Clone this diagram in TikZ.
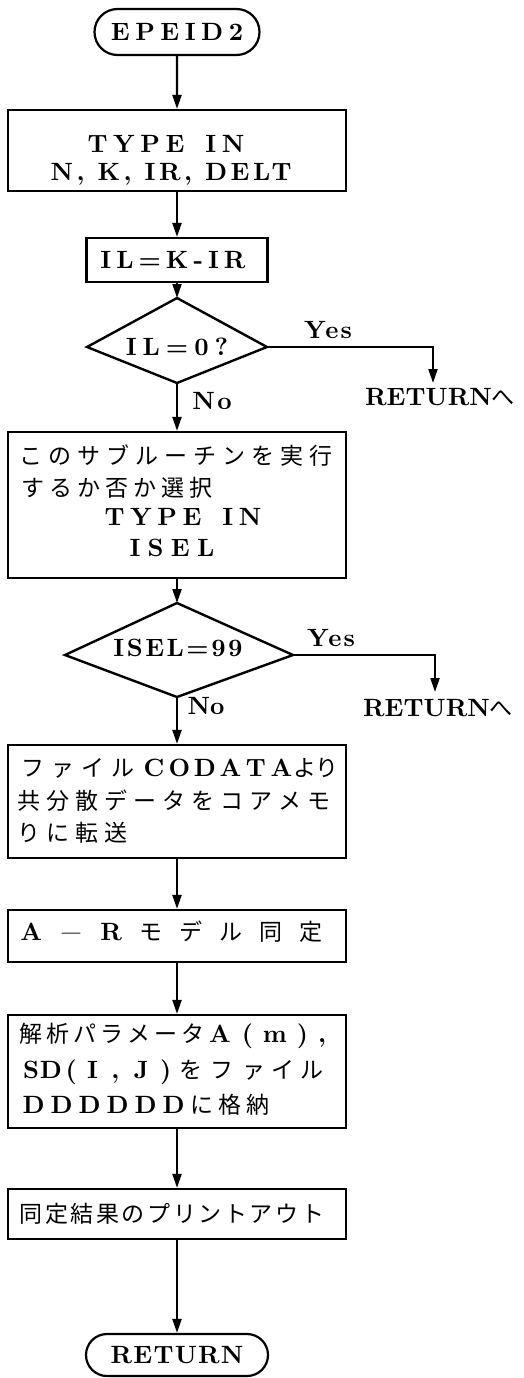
\documentclass[tikz,border=0pt]{standalone}
\usepackage{fontspec}
\usepackage{graphicx}
\usetikzlibrary{arrows.meta,shapes.misc}
\newfontfamily\latb{lmroman10-bold.otf}
\newfontfamily\jpf{Noto Sans CJK JP}
\newdimen\gw
\def\gridstopm{\gridstop}
\def\gridloop#1{\def\gtmp{#1}\ifx\gtmp\gridstopm\else\makebox[\gw]{#1}\expandafter\gridloop\fi}
\newcommand\grid[2]{\gw=#1\relax\gridloop#2\gridstop}
\newcommand\LS[1]{\addfontfeature{LetterSpace=#1}}
\newcommand\jp{\jpf\fontsize{23pt}{27pt}\selectfont}
\begin{document}
\begin{tikzpicture}[x=1pt,y=-1pt,
  box/.style={draw, line width=2.2pt, rectangle, inner sep=0pt, minimum width=338pt},
  term/.style={draw, line width=2.2pt, rounded rectangle, inner sep=0pt, font=\latb\fontsize{25pt}{29pt}\selectfont},
  txt/.style={inner sep=0pt, font=\latb\fontsize{25pt}{29pt}\selectfont},
  jtxt/.style={inner sep=0pt, font=\jp},
  dline/.style={line width=2.4pt, line join=miter},
  arr/.style={line width=2.2pt, -{Triangle[length=14pt,width=9pt]}}]
\fill[white] (0,0) rectangle (524,1378);
\useasboundingbox (0,0) rectangle (524,1378);

% start terminal
\node[term, minimum width=165pt, minimum height=46pt] (start) at (177,32) {\LS{22}EPEID2};

% box 1
\node[box, minimum height=81pt] (b1) at (177,150.5) {};
\node[txt, anchor=base] (b1a) at (166,153) {\LS{22}TYPE\ \hspace{6pt}IN};
\node[txt, anchor=base] (b1b) at (171,180) {\LS{14}N, K, IR, DELT};

% box 2
\node[box, minimum width=181pt, minimum height=44pt] (b2) at (177,260) {};
\node[txt, anchor=base] (b2t) at (173,268) {\LS{20}IL=K-IR};

% diamond 1
\coordinate (d1t) at (177,298);
\coordinate (d1r) at (267,347);
\coordinate (d1b) at (177,383);
\coordinate (d1l) at (87,347);
\draw[dline] (d1t) -- (d1r) -- (d1b) -- (d1l) -- cycle;
\node[txt, anchor=base] (d1x) at (177,355) {\LS{24}IL=0?};
\coordinate (r1tip) at (433,383);
\node[txt, anchor=base] (y1) at (328,338) {\LS{8}Yes};
\node[txt, anchor=base] (r1) at (440,405) {RETURN{\jp へ}};
\node[txt, anchor=base] (n1) at (212,409) {\LS{10}No};

% box 3
\node[box, minimum height=146pt] (b3) at (177,505) {};
\node[jtxt, anchor=base west] (b3a) at (16.5,464) {\grid{29pt}{このサブルーチンを実行}};
\node[jtxt, anchor=base west] (b3b) at (19,496) {\grid{28pt}{するか否か選択}};
\node[txt, anchor=base] (b3c) at (183,525) {\LS{22}TYPE\ \hspace{6pt}IN};
\node[txt, anchor=base] (b3d) at (172,556) {\LS{29}ISEL};

% diamond 2
\coordinate (d2t) at (177,603);
\coordinate (d2r) at (293,655);
\coordinate (d2b) at (177,697);
\coordinate (d2l) at (65,655);
\draw[dline] (d2t) -- (d2r) -- (d2b) -- (d2l) -- cycle;
\node[txt, anchor=base] (d2x) at (178,656) {\LS{10}ISEL=99};
\coordinate (r2tip) at (435,692);
\node[txt, anchor=base] (y2) at (331,646) {\LS{8}Yes};
\node[txt, anchor=base] (r2) at (438,716) {RETURN{\jp へ}};
\node[txt, anchor=base] (n2) at (206,714) {No};

% box 4
\node[box, minimum height=113pt] (b4) at (177,801.5) {};
\node[txt, anchor=base west] (b4a) at (18,776) {{\jp\grid{30pt}{ファイル}}\hspace{3pt}\grid{25.5pt}{CODATA}{\jp\grid{22pt}{より}}};
\node[jtxt, anchor=base west] (b4b) at (14.5,809) {\grid{29pt}{共分散データをコアメモ}};
\node[jtxt, anchor=base west] (b4c) at (14.5,841) {\grid{29pt}{りに転送}};

% box 5
\node[box, minimum height=52pt] (b5) at (177,936) {};
\node[txt, anchor=base west] (b5t) at (11,940) {\grid{40pt}{A{\scalebox{1.3}[1]{–}}R}{\jp\grid{40pt}{モデル同定}}};

% box 6
\node[box, minimum height=113pt] (b6) at (177,1071.5) {};
\node[txt, anchor=base west] (b6a) at (17,1042) {{\jp\grid{27pt}{解析パラメータ}}\grid{27.5pt}{A(m)}\makebox[12pt]{,}};
\node[txt, anchor=base west] (b6b) at (20.5,1078) {\makebox[21pt]{S}\makebox[18.5pt]{D}\makebox[22pt]{(}\makebox[21pt]{I}\makebox[24.5pt]{,}\makebox[27pt]{J}\makebox[22pt]{)}{\jp\makebox[28.5pt]{を}\makebox[33.5pt]{フ}\makebox[30pt]{ァ}\makebox[28pt]{イ}\makebox[31pt]{ル}}};
\node[txt, anchor=base west] (b6c) at (19.5,1113) {\grid{28pt}{DDDDDD}{\jp\grid{28pt}{に格納}}};

% box 7
\node[box, minimum height=50pt] (b7) at (177,1214) {};
\node[jtxt, anchor=base west] (b7t) at (18,1222) {\grid{25.6pt}{同定結果のプリントアウト}};

% end terminal
\node[term, minimum width=182pt, minimum height=42pt] (ret) at (177,1355) {\LS{5}RETURN};

% connectors
\draw[arr] (start) -- (b1);
\draw[arr] (b1) -- (b2);
\draw[arr] (b2) -- (d1t);
\draw[arr] (d1r) -| (r1tip);
\draw[arr] (d1b) -- (b3);
\draw[arr] (b3) -- (d2t);
\draw[arr] (d2r) -| (r2tip);
\draw[arr] (d2b) -- (b4);
\draw[arr] (b4) -- (b5);
\draw[arr] (b5) -- (b6);
\draw[arr] (b6) -- (b7);
\draw[arr] (b7) -- (ret);
\end{tikzpicture}
\end{document}
